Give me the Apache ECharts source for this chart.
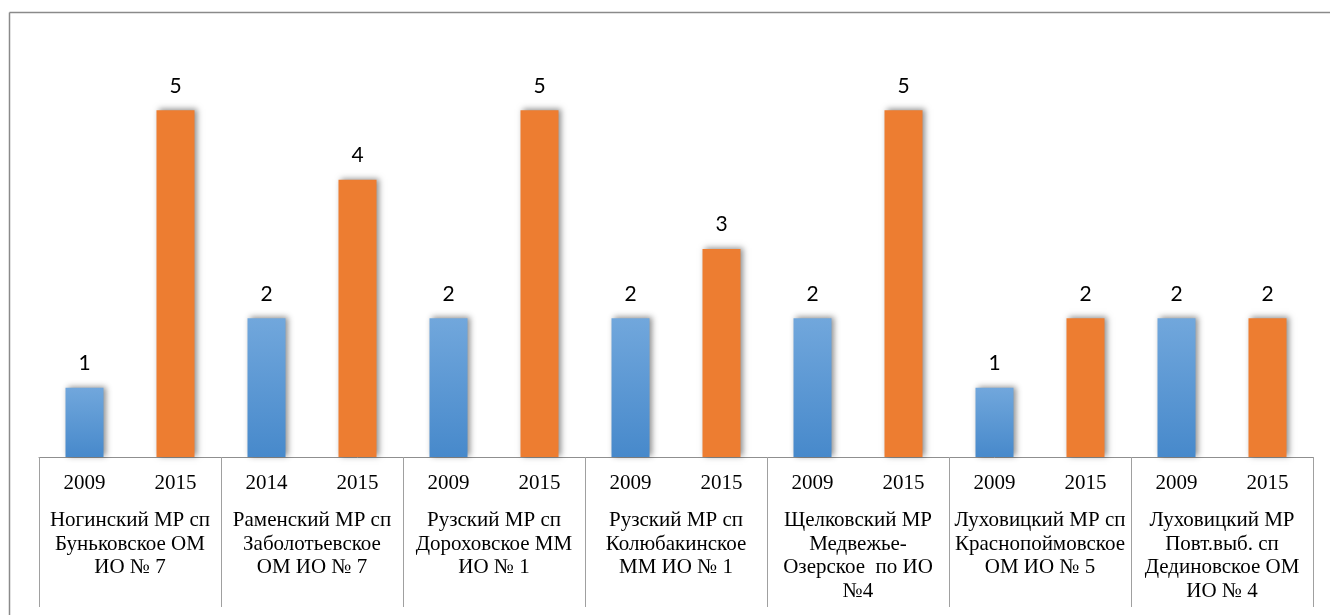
<!DOCTYPE html>
<html><head><meta charset="utf-8">
<script src="https://cdn.jsdelivr.net/npm/echarts@6/dist/echarts.min.js"></script>
<style>html,body{margin:0;padding:0;background:#fff}#c{width:1330px;height:615px}</style>
</head><body><div id="c"></div>
<script>
const years = ['2009','2015','2014','2015','2009','2015','2009','2015','2009','2015','2009','2015','2009','2015'];
const values = [1,5,2,4,2,5,2,3,2,5,1,2,2,2];
const groups = [
  'Ногинский МР сп\nБуньковское ОМ\nИО № 7',
  'Раменский МР сп\nЗаболотьевское\nОМ ИО № 7',
  'Рузский МР сп\nДороховское ММ\nИО № 1',
  'Рузский МР сп\nКолюбакинское\nММ ИО № 1',
  'Щелковский МР\nМедвежье-\nОзерское  по ИО\n№4',
  'Луховицкий МР сп\nКраснопоймовское\nОМ ИО № 5',
  'Луховицкий МР\nПовт.выб. сп\nДединовское ОМ\nИО № 4'
];

const chart = echarts.init(document.getElementById('c'));
const blue = new echarts.graphic.LinearGradient(0,0,0,1,[{offset:0,color:'#71a7dc'},{offset:1,color:'#4789cb'}]);
chart.setOption({
  animation:false,
  backgroundColor:'#fff',
  grid:{left:39,right:17,top:41,bottom:158,containLabel:false},
  xAxis:[
    {type:'category',data:years,position:'bottom',
     axisLine:{lineStyle:{color:'#8f8f8f',width:1}},
     axisTick:{show:false},
     axisLabel:{fontFamily:'Liberation Serif',fontSize:21,color:'#000',margin:15,lineHeight:22,interval:0}},
    {type:'category',data:groups,position:'bottom',offset:0,
     axisLine:{show:false},
     axisTick:{show:true,length:150,lineStyle:{color:'#a0a0a0',width:1}},
     axisLabel:{fontFamily:'Liberation Serif',fontSize:21,color:'#000',margin:52,lineHeight:23.5,interval:0,align:'center',verticalAlign:'top'}}
  ],
  yAxis:{type:'value',min:0,max:6,show:false,splitLine:{show:false}},
  series:[{
    type:'bar',xAxisIndex:0,data:values,barWidth:38,
    itemStyle:{
      color:function(p){return p.dataIndex%2===0?blue:'#ed7d31';},
      shadowColor:'rgba(0,0,0,0.45)',shadowBlur:6,shadowOffsetX:2,shadowOffsetY:-1
    },
    label:{show:true,position:'top',distance:14,fontFamily:'Lato',fontSize:21,color:'#000'}
  }],
  graphic:[
    {type:'line',shape:{x1:9.5,y1:12.5,x2:1330,y2:12.5},style:{stroke:'#8a8a8a',lineWidth:1.5}},
    {type:'line',shape:{x1:9.5,y1:12.5,x2:9.5,y2:615},style:{stroke:'#8a8a8a',lineWidth:1.5}}
  ]
});
</script></body></html>
